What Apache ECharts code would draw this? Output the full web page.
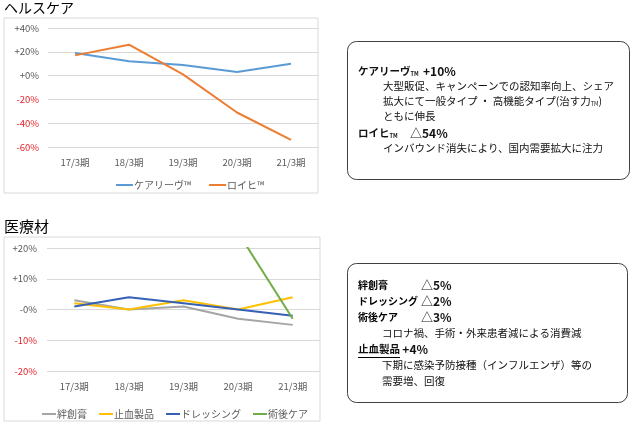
<!DOCTYPE html>
<html>
<head>
<meta charset="utf-8">
<script src="https://cdn.jsdelivr.net/npm/echarts@6/dist/echarts.min.js"></script>
<style>
  html, body { margin: 0; padding: 0; background: #fff; }
  #main { width: 635px; height: 427px; }
</style>
</head>
<body>
<div id="main"></div>
<script>
// 共通カテゴリ
var categories = ['17/3期', '18/3期', '19/3期', '20/3期', '21/3期'];

// ヘルスケア
var careLeaveVals = [19, 12, 9, 3, 10];
var loihiVals = [17, 26, 1, -31, -54];
var topTickLabels = ['-60%', '-40%', '-20%', '+0%', '+20%', '+40%'];

// 医療材
var bandageVals = [3, 0, 1, -3, -5];
var hemostatVals = [2, 0, 3, 0, 4];
var dressingVals = [1, 4, 2, 0, -2];
var postOpVals = [null, null, null, 25, -3];
var bottomTickLabels = ['-20%', '-10%', '-0%', '+10%', '+20%'];

var FONT = '"Noto Sans CJK JP", "Noto Sans", sans-serif';
var GRAY = '#595959';

myChart = echarts.init(document.getElementById('main'));

//目盛りラベル（マイナスは赤）
function tickFormatter(labels, min, step) {
    return function (v) {
        var s = labels[Math.round((v - min) / step)];
        return v < 0 ? '{neg|' + s + '}' : '{pos|' + s + '}';
    };
}

function yAxisOf(gridIndex, min, max, step, labels, margin) {
    return {
        type: 'value',
        gridIndex: gridIndex,
        min: min,
        max: max,
        interval: step,
        axisLine: { show: false },
        axisTick: { show: false },
        splitLine: { lineStyle: { color: '#d9d9d9', width: 1 } },
        axisLabel: {
            margin: margin,
            fontFamily: FONT,
            fontSize: 9.5,
            formatter: tickFormatter(labels, min, step),
            rich: {
                pos: { color: GRAY, fontFamily: FONT, fontSize: 9.5 },
                neg: { color: '#e3252b', fontFamily: FONT, fontSize: 9.5 }
            }
        }
    };
}

function xAxisOf(gridIndex, margin) {
    return {
        type: 'category',
        gridIndex: gridIndex,
        data: categories,
        boundaryGap: true,
        axisLine: { show: false },
        axisTick: { show: false },
        axisLabel: { margin: margin, color: GRAY, fontFamily: FONT, fontSize: 9.5 }
    };
}

function lineOf(name, data, color, axisIdx) {
    return {
        name: name,
        type: 'line',
        data: data,
        xAxisIndex: axisIdx,
        yAxisIndex: axisIdx,
        symbol: 'none',
        clip: true,
        lineStyle: { color: color, width: 2 },
        itemStyle: { color: color }
    };
}

//テキストボックス
var bodyStyle = { fontFamily: FONT, fontSize: 10.5, fill: '#111' };
var boldStyle = { fontFamily: FONT, fontSize: 10, fontWeight: 'bold', fill: '#000' };
var tmRich = {
    b: { fontFamily: FONT, fontSize: 10.5, fontWeight: 'bold', color: '#000' },
    v: { fontFamily: FONT, fontSize: 12, fontWeight: 'bold', color: '#000' },
    n: { fontFamily: FONT, fontSize: 10.5, color: '#111' },
    d: { fontFamily: FONT, fontSize: 12, color: '#111' },
    tm: { fontFamily: FONT, fontSize: 5.5, fontWeight: 'bold', color: '#000', padding: [5, 0, 0, 0] },
    tn: { fontFamily: FONT, fontSize: 5.5, color: '#111', padding: [5, 0, 0, 0] }
};

function txt(x, y, text, base, rich) {
    var st = Object.assign({ text: text, x: x, y: y, verticalAlign: 'middle', align: 'left' }, base);
    if (rich) st.rich = rich;
    return { type: 'text', silent: true, style: st };
}

var graphics = [
    // 枠
    { type: 'rect', shape: { x: 4, y: 18, width: 314, height: 175 }, style: { fill: 'none', stroke: '#d9d9d9', lineWidth: 1 }, z: -1 },
    { type: 'rect', shape: { x: 4, y: 237, width: 316, height: 184 }, style: { fill: 'none', stroke: '#d9d9d9', lineWidth: 1 }, z: -1 },
    { type: 'rect', shape: { x: 347.5, y: 41.5, width: 282, height: 138, r: 9 }, style: { fill: '#fff', stroke: '#404040', lineWidth: 1 } },
    { type: 'rect', shape: { x: 347.5, y: 263.5, width: 280, height: 139, r: 9 }, style: { fill: '#fff', stroke: '#404040', lineWidth: 1 } },

    // ヘルスケア説明
    txt(358, 71, '{b|ケアリーヴ}{tm|TM}', bodyStyle, tmRich),
    txt(423, 71, '{v|+10%}', bodyStyle, tmRich),
    txt(383, 86, '大型販促、キャンペーンでの認知率向上、シェア', bodyStyle),
    txt(383, 101, '{n|拡大にて一般タイプ ・ 高機能タイプ(治す力}{tn|TM}{n|)}', bodyStyle, tmRich),
    txt(383, 116, 'ともに伸長', bodyStyle),
    txt(358, 133, '{b|ロイヒ}{tm|TM}', bodyStyle, tmRich),
    txt(410, 133, '{d|△}{v|54%}', bodyStyle, tmRich),
    txt(383, 148, 'インバウンド消失により、国内需要拡大に注力', bodyStyle),

    // 医療材説明
    txt(358, 285, '絆創膏', boldStyle),
    txt(421, 285, '{d|△}{v|5%}', bodyStyle, tmRich),
    txt(358, 301.5, 'ドレッシング', boldStyle),
    txt(421, 301.5, '{d|△}{v|2%}', bodyStyle, tmRich),
    txt(358, 317.5, '術後ケア', boldStyle),
    txt(421, 317.5, '{d|△}{v|3%}', bodyStyle, tmRich),
    txt(382, 333.5, 'コロナ禍、手術・外来患者減による消費減', bodyStyle),
    txt(358, 349.5, '{b|止血製品} {v|+4%}', bodyStyle, tmRich),
    { type: 'line', shape: { x1: 358, y1: 357.5, x2: 400, y2: 357.5 }, style: { stroke: '#000', lineWidth: 1 } },
    txt(382, 365.5, '下期に感染予防接種（インフルエンザ）等の', bodyStyle),
    txt(382, 381, '需要増、回復', bodyStyle)
];

var option = {
    backgroundColor: '#fff',
    animation: false,
    title: [
        { text: 'ヘルスケア', left: 4, top: 1, padding: 0, textStyle: { fontFamily: FONT, fontSize: 14, fontWeight: 'normal', color: '#000' } },
        { text: '医療材', left: 4, top: 219, padding: 0, textStyle: { fontFamily: FONT, fontSize: 15, fontWeight: 'normal', color: '#000' } }
    ],
    legend: [
        {
            data: ['ケアリーヴ™', 'ロイヒ™'],
            left: 110, top: 175,
            itemWidth: 17, itemHeight: 2, itemGap: 17,
            textStyle: { color: GRAY, fontFamily: FONT, fontSize: 10, padding: [0, 0, 0, -4] }
        },
        {
            data: ['絆創膏', '止血製品', 'ドレッシング', '術後ケア'],
            left: 36, top: 404,
            itemWidth: 14, itemHeight: 2, itemGap: 11,
            textStyle: { color: GRAY, fontFamily: FONT, fontSize: 10, padding: [0, 0, 0, -4] }
        }
    ],
    grid: [
        { left: 48, right: 317, top: 28, height: 119 },
        { left: 47, right: 315, top: 248, height: 123 }
    ],
    xAxis: [xAxisOf(0, 11), xAxisOf(1, 11)],
    yAxis: [
        yAxisOf(0, -60, 40, 20, topTickLabels, 9),
        yAxisOf(1, -20, 20, 10, bottomTickLabels, 10)
    ],
    series: [
        lineOf('ケアリーヴ™', careLeaveVals, '#5b9bd5', 0),
        lineOf('ロイヒ™', loihiVals, '#ed7d31', 0),
        lineOf('絆創膏', bandageVals, '#a5a5a5', 1),
        lineOf('止血製品', hemostatVals, '#ffc000', 1),
        lineOf('ドレッシング', dressingVals, '#3560b5', 1),
        lineOf('術後ケア', postOpVals, '#70ad47', 1)
    ],
    graphic: graphics
};

myChart.setOption(option);
</script>
</body>
</html>
